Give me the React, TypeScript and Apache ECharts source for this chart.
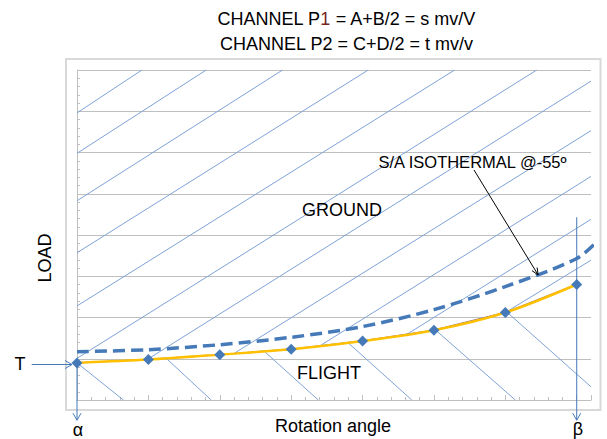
import React, { useEffect, useRef } from 'react';
import * as echarts from 'echarts';

// Rotation angle steps (x) and loads (y)
const angleSteps = [0, 1, 2, 3, 4, 5, 6, 7];
const flightLoad = [0.9, 0.98, 1.1, 1.23, 1.43, 1.69, 2.12, 2.8];
const isoAngle = [0, 1, 2, 3, 4, 5, 6, 7, 7.35];
const isoLoad = [1.17, 1.22, 1.34, 1.52, 1.78, 2.19, 2.75, 3.43, 3.95];

// hatch segments [x1, y1, x2, y2]
const groundHatch = [
  [0, 6.96, 0.91, 8],
  [0, 5.98, 1.81, 8],
  [0, 4.83, 2.88, 8],
  [0, 3.57, 4.08, 8],
  [0, 2.28, 5.29, 8],
  [0, 1.01, 6.44, 8],
  [1.0, 1.0, 7.2, 7.73],
  [2.21, 1.14, 7.2, 6.53],
  [3.39, 1.3, 7.2, 5.42],
  [4.61, 1.58, 7.2, 4.38],
  [6.0, 2.12, 7.2, 3.39],
];
const flightHatch = [
  [0, 0.9, 0.65, 0],
  [1.25, 1.01, 1.88, 0],
  [2.63, 1.17, 3.38, 0],
  [3.79, 1.4, 4.69, 0],
  [5.04, 1.67, 6.14, 0],
  [6.03, 2.12, 7.2, 0.32],
];

const titleLine2 = 'CHANNEL P2 = C+D/2 = t mv/v';
const xName = 'Rotation angle';
const yName = 'LOAD';

const FONT = '"Liberation Sans", Arial, sans-serif';
const BLUE = '#4579B8';
const HATCH = '#7EA3D6';

export default function App() {
  const ref = useRef<HTMLDivElement>(null);
  useEffect(() => {
    const chart = echarts.init(ref.current!, null, { renderer: 'svg' });
    const seg = (s: number[]) => ({ coords: [[s[0], s[1]], [s[2], s[3]]] });
    chart.setOption({
      animation: false,
      grid: { left: 77, top: 70, right: 16, bottom: 39 },
      xAxis: {
        type: 'value', min: 0, max: 7.2, interval: 1,
        axisLine: { lineStyle: { color: '#BFBFBF', width: 1 } },
        axisTick: { show: true, inside: true, length: 5, lineStyle: { color: '#BFBFBF' } },
        minorTick: { show: true, splitNumber: 5, length: 3, lineStyle: { color: '#BFBFBF' } },
        axisLabel: { show: false },
        splitLine: { show: false },
      },
      yAxis: {
        type: 'value', min: 0, max: 8, interval: 1,
        axisLine: { show: true, lineStyle: { color: '#BFBFBF', width: 1 } },
        axisTick: { show: true, inside: true, length: 4, lineStyle: { color: '#BFBFBF' } },
        minorTick: { show: true, splitNumber: 5, length: 3, lineStyle: { color: '#BFBFBF' } },
        axisLabel: { show: false },
        splitLine: { show: true, lineStyle: { color: '#BFBFBF', width: 1 } },
      },
      series: [
        {
          type: 'lines', coordinateSystem: 'cartesian2d', silent: true,
          data: groundHatch.map(seg),
          lineStyle: { color: HATCH, width: 1, opacity: 1 },
        },
        {
          type: 'lines', coordinateSystem: 'cartesian2d', silent: true,
          data: flightHatch.map(seg),
          lineStyle: { color: HATCH, width: 1, opacity: 1 },
        },
        {
          type: 'line', smooth: 0.3, symbol: 'none', clip: false,
          data: isoAngle.map((x, i) => [x, isoLoad[i]]),
          lineStyle: { color: BLUE, width: 3.5, type: [12, 6] },
        },
        {
          type: 'line', symbol: 'none',
          data: angleSteps.map((x, i) => [x, flightLoad[i]]),
          lineStyle: { color: '#7F62A6', width: 1.5 },
        },
        {
          type: 'line', smooth: 0.3, symbol: 'none',
          data: angleSteps.map((x, i) => [x, flightLoad[i]]),
          lineStyle: { color: '#FFC000', width: 2.5 },
        },
        {
          type: 'scatter', symbol: 'diamond', symbolSize: 11, z: 5,
          data: angleSteps.map((x, i) => [x, flightLoad[i]]),
          itemStyle: { color: BLUE, opacity: 1 },
        },
      ],
    });

    const px = (x: number, y: number) => chart.convertToPixel({ gridIndex: 0 }, [x, y]) as number[];
    const arrow = (a: number[], b: number[], color: string, len = 7, half = 4) => {
      const dx = b[0] - a[0], dy = b[1] - a[1];
      const L = Math.hypot(dx, dy);
      const ux = dx / L, uy = dy / L;
      const nx = -uy, ny = ux;
      const bx = b[0] - ux * len, by = b[1] - uy * len;
      return [
        { type: 'line', shape: { x1: a[0], y1: a[1], x2: b[0], y2: b[1] }, style: { stroke: color, lineWidth: 1 }, z: 10 },
        {
          type: 'polyline',
          shape: { points: [[bx + nx * half, by + ny * half], [b[0], b[1]], [bx - nx * half, by - ny * half]] },
          style: { stroke: color, lineWidth: 1, fill: 'none' }, z: 10,
        },
      ];
    };
    const txt = (x: number, y: number, text: string, size = 18, extra: any = {}) => ({
      type: 'text', x, y, z: 20,
      style: { text, fill: '#000', font: `${size}px ${FONT}`, align: 'center', verticalAlign: 'middle', ...extra },
    });

    const tPoint = px(0, 0.86);
    const alphaTop = px(0, flightLoad[0]);
    const alphaBot = px(0, -0.49);
    const betaTop = px(7, 4.43);
    const betaBot = px(7, -0.49);
    const annTip = px(6.46, 3.03);

    chart.setOption({
      graphic: [
        { type: 'rect', shape: { x: 66, y: 59, width: 534.5, height: 351 }, style: { fill: 'none', stroke: '#D9D9D9', lineWidth: 2 }, z: -1 },
        {
          type: 'text', x: 346.5, y: 19, z: 20,
          style: {
            text: '{a|CHANNEL P}{r|1}{a| = A+B/2 = s mv/V}',
            align: 'center', verticalAlign: 'middle',
            rich: {
              a: { font: `18px ${FONT}`, fill: '#000' },
              r: { font: `18px ${FONT}`, fill: '#7A1F1F' },
            },
          },
        },
        txt(346.5, 44, titleLine2),
        txt(342, 210, 'GROUND'),
        txt(329, 372.5, 'FLIGHT'),
        txt(472.5, 162, 'S/A ISOTHERMAL @-55º', 16.5),
        txt(333, 426, xName),
        { type: 'text', x: 45, y: 258, rotation: Math.PI / 2, z: 20, style: { text: yName, fill: '#000', font: `18px ${FONT}`, align: 'center', verticalAlign: 'middle' } },
        txt(20, 364, 'T'),
        txt(78, 429.5, 'α'),
        txt(578, 428.5, 'β'),
        ...arrow([31.7, tPoint[1]], [tPoint[0] - 5, tPoint[1]], BLUE),
        ...arrow(alphaTop, alphaBot, BLUE),
        ...arrow(betaTop, betaBot, BLUE),
        ...arrow([474, 170], annTip, '#000', 7, 3),
      ],
    });
    return () => chart.dispose();
  }, []);
  return <div ref={ref} style={{ position: 'absolute', left: 0, top: 0, width: 607, height: 439, background: '#fff' }} />;
}
